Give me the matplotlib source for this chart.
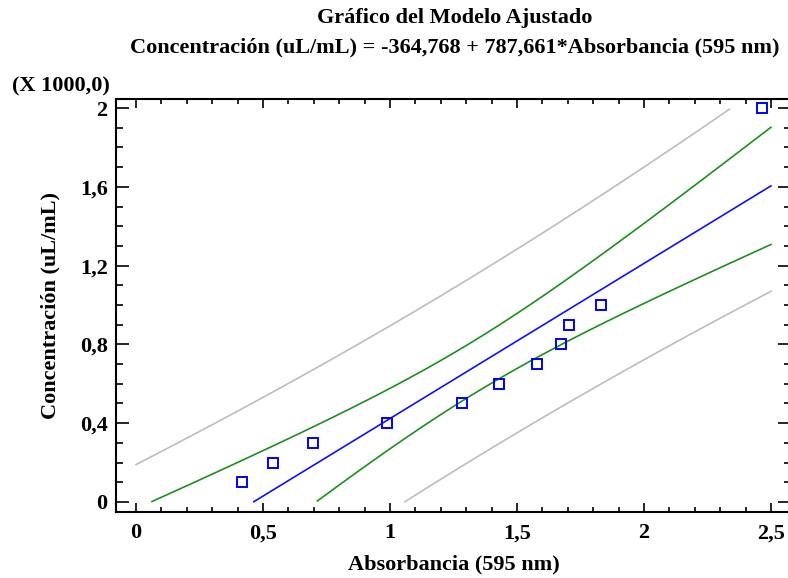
import numpy as np
import matplotlib.pyplot as plt
from matplotlib.ticker import MultipleLocator, FuncFormatter

# data (concentration in thousands of uL/mL)
absorbancia = np.array([0.416, 0.538, 0.695, 0.99, 1.285, 1.43, 1.58, 1.674, 1.705, 1.83, 2.464])
concentracion = np.array([0.1, 0.2, 0.3, 0.4, 0.5, 0.6, 0.7, 0.8, 0.9, 1.0, 2.0])

# linear fit with 95% confidence and prediction limits
n = len(absorbancia)
slope, intercept = np.polyfit(absorbancia, concentracion, 1)
resid = concentracion - (intercept + slope * absorbancia)
s = np.sqrt(np.sum(resid**2) / (n - 2))
sxx = np.sum((absorbancia - absorbancia.mean())**2)
t = 2.262157  # t(0.975, 9)

x_fit = np.linspace(0, 2.5, 400)
y_fit = intercept + slope * x_fit
conf = t * s * np.sqrt(1 / n + (x_fit - absorbancia.mean())**2 / sxx)
pred = t * s * np.sqrt(1 + 1 / n + (x_fit - absorbancia.mean())**2 / sxx)


def clip(y):
    return np.where((y >= 0) & (y <= 2.0), y, np.nan)


plt.rcParams['font.family'] = ['Liberation Serif', 'DejaVu Serif']
plt.rcParams['font.weight'] = 'bold'
fs = 16

fig = plt.figure(figsize=(7.88, 5.78), dpi=100)
ax = fig.add_axes([116 / 788, 1 - 512 / 578, 675 / 788, 413 / 578])

ax.plot(x_fit, clip(y_fit + pred), color='#bdbdbd', lw=1.2)
ax.plot(x_fit, clip(y_fit - pred), color='#bdbdbd', lw=1.2)
ax.plot(x_fit, clip(y_fit + conf), color='#1f8f1f', lw=1.2)
ax.plot(x_fit, clip(y_fit - conf), color='#1f8f1f', lw=1.2)
ax.plot(x_fit, clip(y_fit), color='#1010ff', lw=1.2)
ax.plot(absorbancia, concentracion, 's', mfc='none', mec='#0000ff', ms=6.5, mew=1.4)

ax.set_xlim(-0.079, 2.579)
ax.set_ylim(-0.051, 2.046)

ax.xaxis.set_major_locator(MultipleLocator(0.5))
ax.xaxis.set_minor_locator(MultipleLocator(0.1))
ax.yaxis.set_major_locator(MultipleLocator(0.4))
ax.yaxis.set_minor_locator(MultipleLocator(0.1))

comma = FuncFormatter(lambda v, p: ('%g' % round(v, 2)).replace('.', ','))
ax.xaxis.set_major_formatter(comma)
ax.yaxis.set_major_formatter(comma)

for sp in ax.spines.values():
    sp.set_linewidth(1.5)
ax.tick_params(axis='x', which='major', direction='in', length=6.5, width=1.2,
               top=True, labelsize=fs, pad=8)
ax.tick_params(axis='x', which='minor', direction='in', length=3.5, width=1.2, top=True)
ax.tick_params(axis='y', which='major', direction='in', length=9.5, width=1.2,
               right=True, labelsize=fs, pad=6)
ax.tick_params(axis='y', which='minor', direction='in', length=5, width=1.2, right=True)

ax.set_xlabel('Absorbancia (595 nm)', fontsize=fs, fontweight='bold', labelpad=8)
ax.set_ylabel('Concentración (uL/mL)', fontsize=fs, fontweight='bold', labelpad=14)

fig.text(455 / 788, 1 - 18 / 578, 'Gráfico del Modelo Ajustado', ha='center', va='center',
         fontsize=fs, fontweight='bold')
fig.text(455 / 788, 1 - 47 / 578,
         'Concentración (uL/mL) = -364,768 + 787,661*Absorbancia (595 nm)',
         ha='center', va='center', fontsize=fs, fontweight='bold')
fig.text(12 / 788, 1 - 86 / 578, '(X 1000,0)', ha='left', va='center',
         fontsize=fs, fontweight='bold')

fig.savefig('out.png', dpi=100)
